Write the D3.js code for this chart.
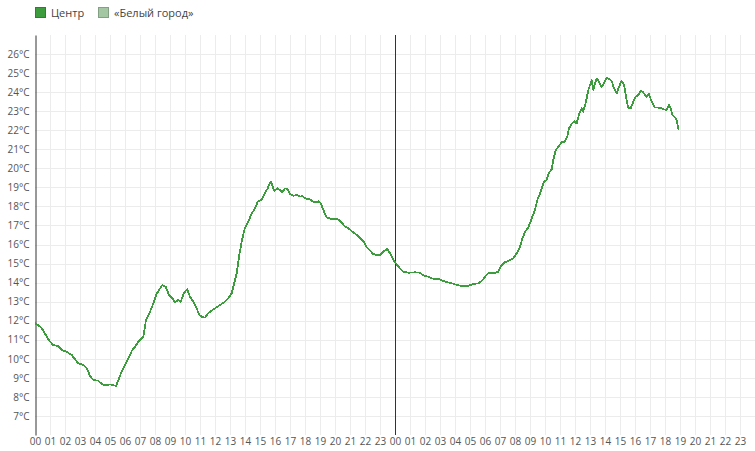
<!DOCTYPE html>
<html>
<head>
<meta charset="utf-8">
<script src="https://cdn.jsdelivr.net/npm/d3@7"></script>
<style>
  html, body { margin: 0; padding: 0; background: #fff; }
  svg { display: block; font-family: "Open Sans", "Noto Sans", sans-serif; }
</style>
</head>
<body>
<svg id="chart" width="755" height="451"></svg>
<script>
// Series names (legend)
const seriesNames = ["Центр", "«Белый город»"];
const seriesColors = ["#3d9c3d", "#a3c6a3"];

// Hour tick labels across two days
const hourLabels = [
  "00","01","02","03","04","05","06","07","08","09","10","11",
  "12","13","14","15","16","17","18","19","20","21","22","23",
  "00","01","02","03","04","05","06","07","08","09","10","11",
  "12","13","14","15","16","17","18","19","20","21","22","23"
];

// Temperature ticks (°C)
const tempTicks = [7,8,9,10,11,12,13,14,15,16,17,18,19,20,21,22,23,24,25,26];

// "Центр" series: time in hours since first midnight, temperature in °C
const centerHours = [
  0.00,0.33,0.55,0.78,1.00,1.22,1.55,1.78,2.11,2.45,2.67,2.89,3.22,3.45,3.67,3.89,
  4.22,4.45,4.67,5.00,5.22,5.40,5.55,5.78,6.00,6.22,6.45,6.67,6.89,7.22,7.40,7.67,
  7.89,8.07,8.29,8.49,8.71,8.93,9.15,9.33,9.55,9.71,9.93,10.15,10.33,10.55,10.78,10.95,
  11.11,11.33,11.55,11.78,12.00,12.33,12.67,12.89,13.11,13.22,13.45,13.60,13.78,13.95,
  14.22,14.45,14.67,14.85,15.11,15.33,15.51,15.71,15.82,15.95,16.15,16.33,16.49,16.67,
  16.85,17.00,17.22,17.45,17.67,17.82,18.00,18.33,18.49,18.67,18.89,19.07,19.22,19.45,
  19.67,20.00,20.22,20.45,20.62,20.89,21.11,21.45,21.67,21.89,22.11,22.33,22.55,22.78,
  23.00,23.22,23.49,23.67,23.89,24.11,24.33,24.55,24.89,25.33,25.67,25.89,26.22,26.55,
  27.00,27.33,27.67,28.00,28.33,28.89,29.22,29.55,29.78,30.00,30.22,30.67,30.89,31.11,
  31.33,31.67,31.89,32.11,32.33,32.49,32.67,32.85,33.00,33.15,33.33,33.49,33.67,33.82,
  33.93,34.11,34.27,34.45,34.55,34.71,34.89,35.11,35.33,35.49,35.60,35.78,35.95,36.11,
  36.29,36.45,36.55,36.73,36.89,37.00,37.11,37.22,37.33,37.45,37.60,37.78,37.93,38.11,
  38.29,38.45,38.60,38.78,38.93,39.11,39.27,39.40,39.55,39.71,39.89,40.05,40.22,40.38,
  40.51,40.67,40.78,40.93,41.11,41.33,41.67,41.89,42.11,42.27,42.38,42.49,42.67,42.78,
  42.91
];
const centerTemps = [
  11.87,11.70,11.50,11.16,10.90,10.72,10.67,10.46,10.37,10.20,9.97,9.76,9.68,9.50,9.10,8.89,
  8.85,8.68,8.60,8.66,8.62,8.57,8.85,9.35,9.68,10.03,10.41,10.64,10.90,11.16,12.04,12.47,
  12.91,13.35,13.65,13.87,13.79,13.35,13.18,12.97,13.09,13.00,13.44,13.66,13.26,13.00,12.65,12.30,
  12.21,12.16,12.39,12.53,12.65,12.82,13.00,13.18,13.44,13.79,14.49,15.36,16.15,16.76,
  17.20,17.64,17.90,18.25,18.37,18.69,18.95,19.30,19.12,18.82,18.95,18.86,18.74,18.95,
  18.91,18.65,18.56,18.60,18.51,18.56,18.43,18.37,18.28,18.20,18.27,18.16,17.81,17.43,
  17.36,17.36,17.32,17.15,16.97,16.85,16.71,16.50,16.33,16.18,15.85,15.68,15.50,15.45,
  15.46,15.62,15.77,15.54,15.19,14.96,14.75,14.57,14.52,14.54,14.52,14.38,14.31,14.20,
  14.17,14.05,13.99,13.91,13.84,13.84,13.93,13.96,14.08,14.31,14.49,14.52,14.57,14.92,
  15.07,15.19,15.28,15.54,15.89,16.30,16.67,16.85,17.11,17.46,17.81,18.34,18.69,19.04,
  19.30,19.39,19.77,19.95,20.44,20.93,21.14,21.37,21.40,21.70,22.10,22.33,22.48,22.36,
  22.90,23.15,22.97,23.50,24.11,24.37,24.63,24.11,24.46,24.72,24.54,24.28,24.46,24.76,
  24.69,24.58,24.20,23.94,24.28,24.58,24.37,23.76,23.18,23.15,23.50,23.76,23.85,24.06,
  24.02,23.85,23.76,23.90,23.50,23.20,23.18,23.10,23.06,23.36,23.15,22.80,22.66,22.54,
  22.01
];

const svg = d3.select("#chart");
const W = 755, H = 451;
const margin = { left: 35, right: 0, top: 35, bottom: 16 };

const x = d3.scaleLinear().domain([0, 48]).range([margin.left, W - margin.right]);
const y = d3.scaleLinear().domain([6, 27]).range([H - margin.bottom, margin.top]);

const textColor = "#555";

// Gridlines
const grid = svg.append("g");
grid.selectAll("line.v").data(d3.range(1, 48)).enter().append("line")
  .attr("x1", d => Math.round(x(d)) + 0.5).attr("x2", d => Math.round(x(d)) + 0.5)
  .attr("y1", y(27)).attr("y2", y(6))
  .attr("stroke", "#ececec").attr("stroke-width", 1);
grid.selectAll("line.h").data(tempTicks).enter().append("line")
  .attr("x1", x(0)).attr("x2", x(48))
  .attr("y1", d => Math.round(y(d)) + 0.5).attr("y2", d => Math.round(y(d)) + 0.5)
  .attr("stroke", "#ececec").attr("stroke-width", 1);

// Y axis
const yAxis = d3.axisLeft(y).tickValues(tempTicks).tickSize(0).tickPadding(6)
  .tickFormat(d => d + "°C");
const gy = svg.append("g").attr("transform", `translate(${Math.round(x(0)) + 0.5},0)`).call(yAxis);
gy.select(".domain").attr("stroke", "#333");
gy.selectAll("text").attr("fill", textColor).attr("font-size", 10)
  .attr("font-family", "'Open Sans', 'Noto Sans', sans-serif");

// X axis labels
const xAxis = d3.axisBottom(x).tickValues(d3.range(0, 48)).tickSize(0).tickPadding(3)
  .tickFormat(d => hourLabels[d]);
const gx = svg.append("g").attr("transform", `translate(0,${y(6)})`).call(xAxis);
gx.select(".domain").remove();
gx.selectAll("text").attr("fill", textColor).attr("font-size", 10)
  .attr("font-family", "'Open Sans', 'Noto Sans', sans-serif");

// Midnight divider
svg.append("line")
  .attr("x1", Math.round(x(24)) + 0.5).attr("x2", Math.round(x(24)) + 0.5)
  .attr("y1", y(27)).attr("y2", y(6))
  .attr("stroke", "#333").attr("stroke-width", 1);

// Line series
const pts = centerHours.map((h, i) => [h, centerTemps[i]]);
const line = d3.line().x(d => x(d[0])).y(d => y(d[1]));
svg.append("path").datum(pts)
  .attr("d", line)
  .attr("fill", "none")
  .attr("stroke", seriesColors[0])
  .attr("stroke-width", 1.8)
  .attr("shape-rendering", "crispEdges")
  .attr("stroke-linejoin", "round");

// Legend
const legend = svg.append("g");
const legendX = [35, 98];
seriesNames.forEach((name, i) => {
  const g = legend.append("g").attr("transform", `translate(${legendX[i]},7)`);
  g.append("rect").attr("x", 0.5).attr("y", 0.5).attr("width", 10).attr("height", 10)
    .attr("fill", seriesColors[i])
    .attr("stroke", d3.color(seriesColors[i]).darker(0.6));
  g.append("text").attr("x", 16).attr("y", 9.5)
    .attr("font-size", 11).attr("fill", "#444")
    .text(name);
});
</script>
</body>
</html>
